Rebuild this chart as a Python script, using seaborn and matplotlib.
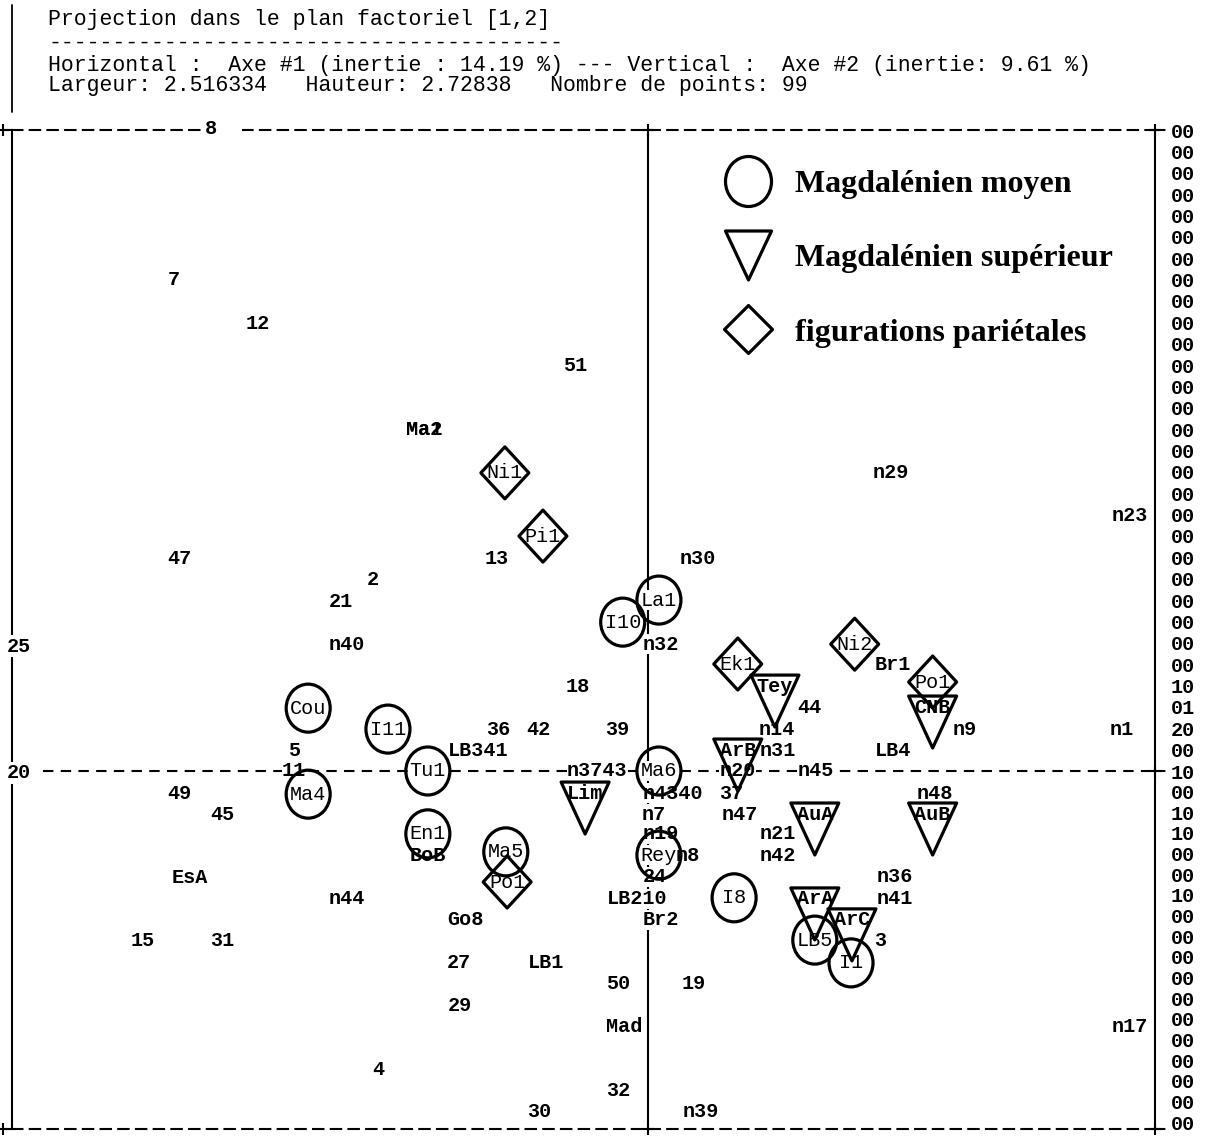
import numpy as np
import pandas as pd
import matplotlib
matplotlib.use("Agg")
import matplotlib.pyplot as plt
from matplotlib.path import Path
from matplotlib.lines import Line2D
from matplotlib.font_manager import FontProperties
import matplotlib.transforms as mtransforms
import seaborn as sns

# ------------------------------------------------------------------ data
# plain points (label only), coordinates on axis 1 / axis 2
plain_labels = ["7", "12", "51", "Ma1", "Ma2", "n29", "n23", "13", "47", "n30",
                "2", "21", "n40", "n32", "Br1", "18", "44", "36", "42", "39",
                "n14", "n9", "n1", "5", "LB341", "n31", "LB4", "11", "n3743", "n20",
                "n45", "49", "n4340", "37", "n48", "45", "n7", "n47", "n19", "n21",
                "BoB", "n8", "n42", "EsA", "24", "n36", "n44", "LB210", "n41", "Go8",
                "Br2", "15", "31", "3", "27", "LB1", "50", "19", "29", "Mad",
                "n17", "4", "32", "30", "n39"]
plain_x = [-1.034, -0.850, -0.159, -0.488, -0.488, 0.530, 1.051, -0.329, -1.021, 0.109,
           -0.600, -0.669, -0.656, 0.028, 0.534, -0.153, 0.353, -0.327, -0.240, -0.068,
           0.281, 0.691, 1.034, -0.772, -0.371, 0.283, 0.534, -0.772, -0.111, 0.196,
           0.366, -1.021, 0.055, 0.181, 0.626, -0.929, 0.013, 0.201, 0.028, 0.283,
           -0.480, 0.087, 0.283, -0.999, 0.015, 0.539, -0.656, -0.024, 0.539, -0.397,
           0.028, -1.101, -0.929, 0.506, -0.412, -0.222, -0.065, 0.100, -0.410, -0.052,
           1.051, -0.589, -0.065, -0.236, 0.116]
plain_y = [1.336, 1.216, 1.102, 0.928, 0.928, 0.811, 0.694, 0.577, 0.577, 0.577,
           0.520, 0.462, 0.345, 0.345, 0.291, 0.231, 0.174, 0.114, 0.114, 0.114,
           0.114, 0.114, 0.114, 0.057, 0.057, 0.057, 0.057, 0.000, 0.000, 0.000,
           0.000, -0.060, -0.060, -0.060, -0.060, -0.117, -0.117, -0.117, -0.171, -0.171,
           -0.231, -0.231, -0.231, -0.291, -0.288, -0.288, -0.348, -0.348, -0.348, -0.405,
           -0.405, -0.462, -0.462, -0.462, -0.522, -0.522, -0.579, -0.579, -0.637, -0.696,
           -0.696, -0.813, -0.870, -0.925, -0.925]

# Magdalénien moyen (circles)
moyen_labels = ["La1", "I10", "Cou", "I11", "Tu1", "Ma6", "Ma4", "En1", "Ma5", "Rey", "I8", "LB5", "I1"]
moyen_x = [0.024, -0.055, -0.741, -0.567, -0.480, 0.024, -0.741, -0.480, -0.310, 0.024, 0.188, 0.364, 0.443]
moyen_y = [0.465, 0.405, 0.171, 0.114, 0.000, 0.000, -0.063, -0.171, -0.220, -0.229, -0.345, -0.460, -0.522]

# Magdalénien supérieur (triangles)
sup_labels = ["Tey", "CNB", "ArB", "Lim", "AuA", "AuB", "ArA", "ArC"]
sup_x = [0.277, 0.621, 0.196, -0.137, 0.364, 0.621, 0.364, 0.445]
sup_y = [0.231, 0.174, 0.057, -0.060, -0.117, -0.117, -0.348, -0.405]

# figurations pariétales (diamonds)
par_labels = ["Ni1", "Pi1", "Ni2", "Ek1", "Po1", "Po1"]
par_x = [-0.312, -0.229, 0.451, 0.196, 0.621, -0.307]
par_y = [0.811, 0.639, 0.345, 0.291, 0.242, -0.302]

left_tick_values = [0.345, 0.0]
left_tick_labels = ["25", "20"]
top_tick_values = [-0.927]
top_tick_labels = ["8  "]
right_codes_top = ["00"] * 26 + ["10", "01", "20", "00"]          # rows above the origin line
right_code_zero = ["10"]                                           # origin line
right_codes_bottom = ["00", "10", "10", "00", "00", "10"] + ["00"] * 11  # rows below

legend_labels = ["Magdalénien moyen", "Magdalénien supérieur", "figurations pariétales"]

header_lines = ["Projection dans le plan factoriel [1,2]",
                "-" * 40,
                "Horizontal :  Axe #1 (inertie : 14.19 %) --- Vertical :  Axe #2 (inertie: 9.61 %)",
                "Largeur: 2.516334   Hauteur: 2.72838   Nombre de points: 99"]

# ------------------------------------------------------------------ style
W, H, DPI = 1220, 1138, 100
sns.set_theme(style="white", rc={"axes.edgecolor": "black", "text.color": "black",
                                 "xtick.color": "black", "ytick.color": "black"})
plt.rcParams['font.family'] = ['Liberation Mono', 'DejaVu Sans Mono']

MONO = 'Liberation Mono'
LBL_FS = 14.5
DASH = (0, (5, 3.5))
LW = 1.5
MLW = 2.3

TOP_PX, BOT_PX, LEFT_PX, RIGHT_PX, ORIG_Y_PX = 130, 1129, 12, 1155, 771
CODES_BOT_PX = 1122
PX_PER_Y = 367.6


def px2pt(v):
    return v * 72.0 / DPI


def marker_size(path):
    return (2 * np.max(np.abs(path.vertices)) * 72.0 / DPI) ** 2


uc = Path.unit_circle()
CIRCLE = Path(uc.vertices * np.array([22.0, 24.0]), uc.codes)
TRI = Path([(-24, 11), (24, 11), (0, -41), (-24, 11)], closed=True)
DIAM = Path([(0, 26), (24, 0), (0, -26), (-24, 0), (0, 26)], closed=True)

L_CIRCLE = Path(uc.vertices * np.array([23.0, 25.0]), uc.codes)
L_TRI = Path([(-23, 24.5), (23, 24.5), (0, -24.5), (-23, 24.5)], closed=True)
L_DIAM = Path([(0, 24), (24, 0), (0, -24), (-24, 0), (0, 24)], closed=True)

fig = plt.figure(figsize=(W / DPI, H / DPI), dpi=DPI)
ax = fig.add_axes([LEFT_PX / W, 1 - BOT_PX / H, (RIGHT_PX - LEFT_PX) / W, (BOT_PX - TOP_PX) / H])
ax.set_xlim(-1.387, 1.106)
ax.set_ylim(-(BOT_PX - ORIG_Y_PX) / PX_PER_Y, (ORIG_Y_PX - TOP_PX) / PX_PER_Y)

# frame
for side in ["top", "bottom"]:
    ax.spines[side].set_linestyle(DASH)
for side in ax.spines:
    ax.spines[side].set_linewidth(LW)
    ax.spines[side].set_color("black")
    ax.spines[side].set_zorder(0.5)

ax.axvline(0, color="black", lw=LW, zorder=1)
ax.axhline(0, xmin=0.027, xmax=1, color="black", lw=LW, ls=DASH, zorder=1)

blend = mtransforms.blended_transform_factory(ax.transAxes, ax.transData)
ylo, yhi = ax.get_ylim()
for yy in [ylo, yhi, 0.0]:
    ax.plot([1.0, 1.013], [yy, yy], transform=blend, color="black", lw=LW, ls=DASH, clip_on=False)
    ax.plot([1.0], [yy], transform=blend, marker="+", ms=8, mew=1.5, color="black", clip_on=False)
for yy in [ylo, yhi]:
    ax.plot([-0.008, 0.0], [yy, yy], transform=blend, color="black", lw=LW, ls=DASH, clip_on=False)
    ax.plot([-0.008], [yy], transform=blend, marker="+", ms=8, mew=1.5, color="black", clip_on=False)
    ax.plot([0.0], [yy], marker="+", ms=8, mew=1.5, color="black", clip_on=False)

# ticks: left "25"/"20", top "8"
ax.set_yticks(left_tick_values)
ax.set_yticklabels(left_tick_labels)
ax.set_xticks(top_tick_values)
ax.set_xticklabels(top_tick_labels)
ax.tick_params(axis="x", bottom=False, labelbottom=False, top=True, labeltop=True,
               length=0, pad=-6)
ax.tick_params(axis="y", left=True, labelleft=True, length=0, pad=-14)
for lbl in ax.xaxis.get_majorticklabels() + ax.yaxis.get_majorticklabels():
    lbl.set_fontfamily(MONO)
    lbl.set_fontsize(LBL_FS)
    lbl.set_fontweight("bold")
    lbl.set_bbox(dict(fc="white", ec="none", pad=1.0))

# right code column (one text row per line of the printout)
ax2 = ax.twinx()
ax2.set_ylim(ax.get_ylim())
n_up, n_dn = len(right_codes_top), len(right_codes_bottom)
codes_lo = -(CODES_BOT_PX - ORIG_Y_PX) / PX_PER_Y
pos_up = yhi * np.arange(n_up, 0, -1) / n_up
pos_dn = codes_lo * np.arange(1, n_dn + 1) / n_dn
ax2.set_yticks(np.concatenate([pos_up, [0.0], pos_dn]))
ax2.set_yticklabels(right_codes_top + right_code_zero + right_codes_bottom)
ax2.tick_params(axis="y", length=0, pad=px2pt(16))
for lbl in ax2.get_yticklabels():
    lbl.set_fontfamily(MONO)
    lbl.set_fontsize(LBL_FS)
    lbl.set_fontweight("bold")
    lbl.set_verticalalignment("center_baseline")
for s in ax2.spines.values():
    s.set_visible(False)
ax2.grid(False)
ax.grid(False)

# markers (seaborn)
for xs, ys, path in [(moyen_x, moyen_y, CIRCLE), (sup_x, sup_y, TRI), (par_x, par_y, DIAM)]:
    d = pd.DataFrame({"x": xs, "y": ys})
    sns.scatterplot(data=d, x="x", y="y", marker=path, s=marker_size(path),
                    facecolor="none", edgecolor="black", linewidth=MLW,
                    ax=ax, zorder=5, legend=False)
    ax.collections[-1].set_facecolor("none")
    ax.collections[-1].set_edgecolor("black")
ax.set_xlabel("")
ax.set_ylabel("")


def draw_labels(labels, xs, ys, weight):
    for lab, xv, yv in zip(labels, xs, ys):
        on_line = abs(xv) < 0.06 or abs(yv) < 0.005
        ax.text(xv, yv, lab, ha="center", va="center", fontsize=LBL_FS,
                fontweight=weight, family=MONO, zorder=4,
                bbox=dict(fc="white", ec="none", pad=0.2) if on_line else None)


draw_labels(plain_labels, plain_x, plain_y, "bold")
draw_labels(moyen_labels, moyen_x, moyen_y, "normal")
draw_labels(sup_labels, sup_x, sup_y, "bold")
draw_labels(par_labels, par_x, par_y, "normal")

# legend
handles = [Line2D([], [], ls="", marker=p, ms=np.sqrt(marker_size(p)), mfc="none",
                  mec="black", mew=MLW) for p in (L_CIRCLE, L_TRI, L_DIAM)]
ax.legend(handles, legend_labels, loc="upper left",
          bbox_to_anchor=(724 / W, 1 - 170 / H), bbox_transform=fig.transFigure,
          frameon=False, prop=FontProperties(family="Liberation Serif", weight="bold", size=23),
          handlelength=1.5, handletextpad=0.72, labelspacing=1.4,
          borderpad=0, borderaxespad=0)

# header
for txt, ypx in zip(header_lines, [20, 43, 66, 86]):
    fig.text(48 / W, 1 - ypx / H, txt, ha="left", va="center", family=MONO, fontsize=15.5)
fig.add_artist(Line2D([12 / W, 12 / W], [1 - 5 / H, 1 - 112 / H], color="black", lw=1.3))

fig.savefig("out.png", dpi=DPI)
